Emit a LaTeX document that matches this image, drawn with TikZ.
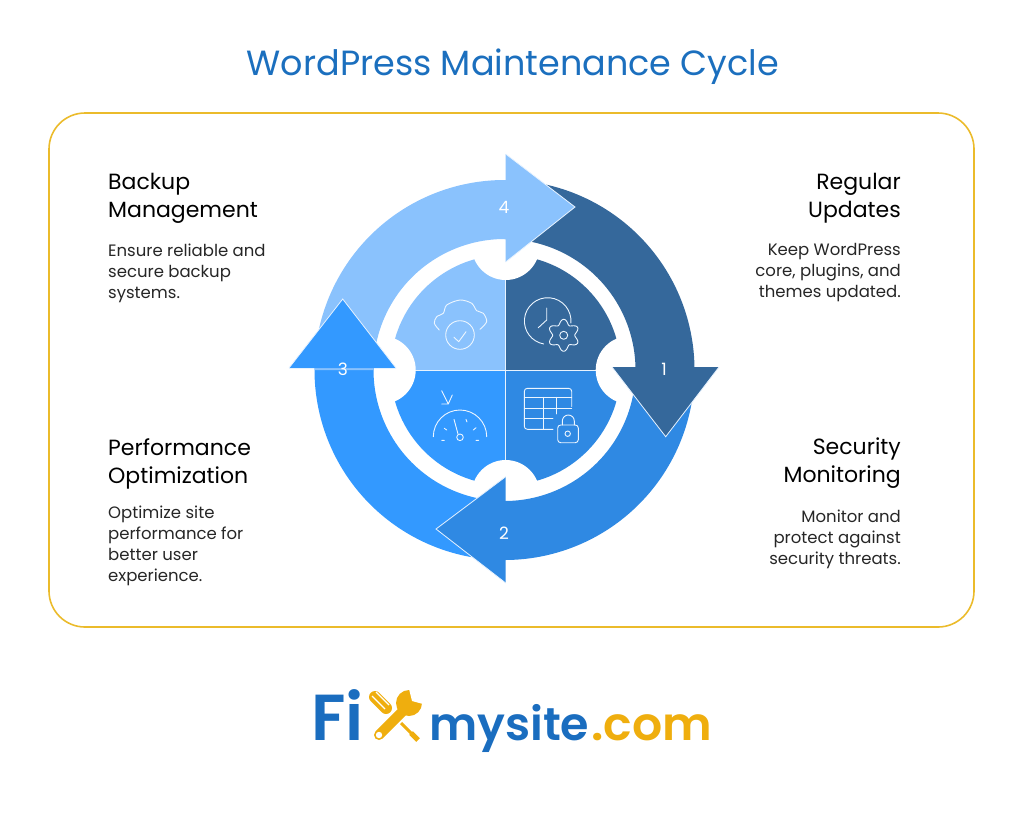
\documentclass[tikz,border=0pt]{standalone}
\usepackage{fontspec}
\setmainfont{Poppins}
\newfontfamily\logofont{Poppins SemiBold}
\usetikzlibrary{positioning}
\definecolor{stepone}{HTML}{35689B}
\definecolor{steptwo}{HTML}{2F89E3}
\definecolor{stepthree}{HTML}{3399FF}
\definecolor{stepfour}{HTML}{8AC2FD}
\definecolor{titleblue}{HTML}{1B6FBE}
\definecolor{logoblue}{HTML}{1A6DBF}
\definecolor{logogold}{HTML}{EFAE0E}
\definecolor{frameyellow}{HTML}{EBBB2B}
\tikzset{
  headtxt/.style={inner sep=0pt, font=\fontsize{22}{28}\selectfont, text=black},
  bodytxt/.style={inner sep=0pt, font=\fontsize{16.5}{21}\selectfont, text=black!85},
  numtxt/.style={inner sep=0pt, text=white, font=\fontsize{17}{20}\selectfont},
  icon/.style={draw=white!85!stepfour, line width=0.9pt, line cap=round, line join=round},
  headedge/.style={draw=white!80!stepfour, line width=0.8pt},
  logotxt/.style={inner sep=0pt, anchor=base west, font=\fontsize{65}{70}\logofont},
  logosmall/.style={inner sep=0pt, anchor=base west, font=\fontsize{46}{50}\logofont}
}
\begin{document}
\begin{tikzpicture}[x=1pt, y=-1pt]
  \useasboundingbox (0,0) rectangle (1024,812);
  \coordinate (mid) at (505.7,370);
  \coordinate (ring) at (504.5,370);

  \node [inner sep=0pt, text=titleblue, font=\fontsize{35}{42}\selectfont] (title) at (513,67) {WordPress Maintenance Cycle};
  \draw [frameyellow, line width=1.6pt, rounded corners=36pt] (49,113) rectangle (974,627);

  \fill [stepone] (mid) -- +(270:115) arc (270:360:115) -- cycle;
  \fill [steptwo] (mid) -- +(0:115) arc (0:90:115) -- cycle;
  \fill [stepthree] (mid) -- +(90:115) arc (90:180:115) -- cycle;
  \fill [stepfour] (mid) -- +(180:115) arc (180:270:115) -- cycle;
  \draw [white!80!stepfour, line width=0.8pt] (mid) +(0,-115) -- +(0,115) +(-115,0) -- +(115,0);
  \foreach \ang in {0,90,180,270}
    \fill [white] (mid) ++(\ang:124) circle (34);

  \fill [stepone] ([shift={(270:190)}]ring) arc (270:362:190) -- ([shift={(362:131)}]ring) arc (362:270:131) -- cycle;
  \fill [steptwo] ([shift={(0:190)}]ring) arc (0:92:190) -- ([shift={(92:131)}]ring) arc (92:0:131) -- cycle;
  \fill [stepthree] ([shift={(90:190)}]ring) arc (90:182:190) -- ([shift={(182:131)}]ring) arc (182:90:131) -- cycle;
  \fill [stepfour] ([shift={(180:190)}]ring) arc (180:272:190) -- ([shift={(272:131)}]ring) arc (272:180:131) -- cycle;

  \coordinate (onea) at (612,367);
  \coordinate (onetip) at (665.7,436.7);
  \coordinate (oneb) at (719,367);
  \coordinate (twoa) at (505.7,476.7);
  \coordinate (twotip) at (436,529);
  \coordinate (twob) at (505.7,583);
  \coordinate (threea) at (289,368);
  \coordinate (threetip) at (342.7,299);
  \coordinate (threeb) at (396,368);
  \coordinate (foura) at (505.7,154);
  \coordinate (fourtip) at (575,207);
  \coordinate (fourb) at (505.7,262);
  \foreach \nm/\col in {one/stepone,two/steptwo,three/stepthree,four/stepfour} {
    \fill [\col] (\nm a) -- (\nm tip) -- (\nm b) -- cycle;
    \draw [headedge] (\nm a) -- (\nm tip) -- (\nm b);
  }

  \node [numtxt] (num1) at (664,369) {1};
  \node [numtxt] (num2) at (504,533) {2};
  \node [numtxt] (num3) at (343,369) {3};
  \node [numtxt] (num4) at (504,207) {4};

  % clock and gear
  \draw [icon] (547.7,321) ++(5:23.3) arc (5:-260:23.3);
  \draw [icon] (546.7,308) -- (546.7,320) -- (538.3,327.7);
  \draw [icon, smooth, samples=73, domain=0:360] plot ({563.7+(13.5+2.5*cos(6*(\x-90)))*cos(\x)},{335.3+(13.5+2.5*cos(6*(\x-90)))*sin(\x)});
  \draw [icon] (563.7,335.3) circle (4);
  % table and lock
  \draw [icon, rounded corners=3pt] (571.7,406.5) -- (571.7,388.3) -- (524.3,388.3) -- (524.3,429.3) -- (553,429.3);
  \draw [icon] (524.3,397.3) -- (571.7,397.3) (524.3,408.3) -- (571.7,408.3) (524.3,418.7) -- (553,418.7) (543.3,397.3) -- (543.3,429.3) (556.7,397.3) -- (556.7,414);
  \draw [icon, rounded corners=3pt] (557.7,425) rectangle (578.3,442.7);
  \draw [icon] (562.3,425) -- (562.3,421) arc (180:360:6) -- (574.3,425);
  \draw [icon] (567.7,433.7) circle (2.7);
  % cloud and check
  \draw [icon, smooth] plot coordinates {(439.3,330) (434.3,323.3) (436.7,316.7) (443.3,313.3) (446.7,305) (460,300) (471.7,303.3) (476.7,310.7) (483.3,313.3) (486.7,321.7) (480,329.3)};
  \draw [icon] (460,335) circle (14.3);
  \draw [icon] (454,337.3) -- (458.7,341.7) -- (466,331.7);
  % gauge and arrow
  \draw [icon] (433.3,436.7) arc (180:360:26.7);
  \draw [icon] (460,437.3) circle (3.3);
  \draw [icon] (454,419.3) -- (458,434);
  \draw [icon] (444.3,428.3) -- (446.7,430) (466,419.3) -- (467,422) (476,427.7) -- (473.3,430) (441.7,440.3) -- (444.3,440.3) (476,440.3) -- (478.7,440.3);
  \draw [icon] (441.7,390.7) -- (448.3,404) (441.7,404) -- (448.3,404) -- (452.3,395);

  \node [headtxt, anchor=north west, align=left] (backup) at (108,173) {Backup\\Management};
  \node [bodytxt, align=left, below=20pt of backup.south west, anchor=north west] (backuptxt) {Ensure reliable and\\secure backup\\systems.};
  \node [headtxt, anchor=north east, align=right] (updates) at (901,173) {Regular\\Updates};
  \node [bodytxt, align=right, below=20pt of updates.south east, anchor=north east] (updatestxt) {Keep WordPress\\core, plugins, and\\themes updated.};
  \node [headtxt, anchor=north west, align=left] (perf) at (108,438) {Performance\\Optimization};
  \node [bodytxt, align=left, below=17pt of perf.south west, anchor=north west] (perftxt) {Optimize site\\performance for\\better user\\experience.};
  \node [headtxt, anchor=north east, align=right] (security) at (901,438) {Security\\Monitoring};
  \node [bodytxt, align=right, below=21pt of security.south east, anchor=north east] (securitytxt) {Monitor and\\protect against\\security threats.};

  \node [logotxt, text=logoblue] (logofi) at (311,740.7) {Fi};
  \node [logosmall, text=logoblue] (logomy) at (429,740.7) {mysite};
  \node [logosmall, text=logogold, xscale=1.03, anchor=base west] (logocom) at (591,740.7) {.com};

  % wrench and screwdriver
  \draw [logogold, line width=3pt] (401,723) -- (414,736);
  \draw [logogold, line width=5pt] (411,733) -- (418,740);
  \draw [logogold, line width=12pt, line cap=round] (375,697) -- (386,708);
  \draw [white, line width=1.2pt] (376,692) -- (389,705) (372,696) -- (385,709);
  \draw [logogold, line width=10pt, line cap=round] (379,735) -- (409,705);
  \fill [logogold] (409,703) circle (13);
  \fill [white] (412,701) -- (409,689) -- (418,685) -- (428,696) -- (423,704) -- cycle;
  \fill [white] (379,735) circle (3.2);
\end{tikzpicture}
\end{document}
